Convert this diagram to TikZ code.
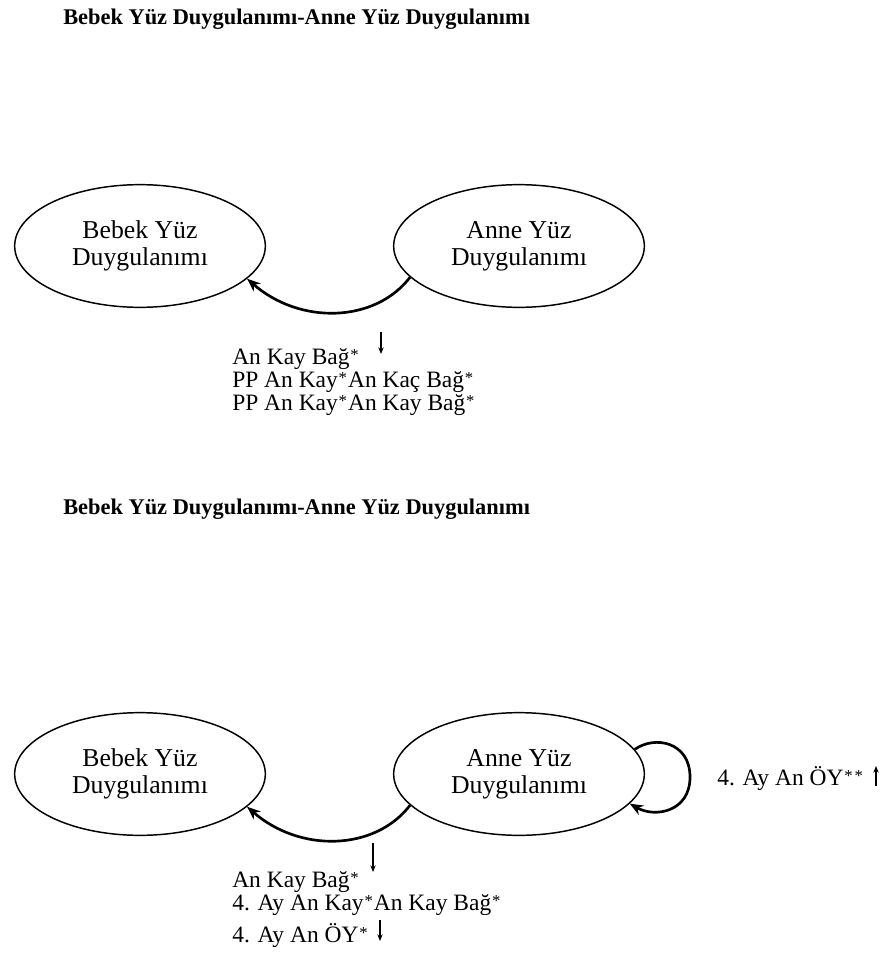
\documentclass[tikz,border=0pt]{standalone}
\usepackage{fontspec}
\setmainfont{Liberation Serif}
\usetikzlibrary{shapes.geometric,arrows.meta}
% small raised significance mark
\newcommand{\sg}{{\kern0.6pt\raisebox{0.15em}{\fontsize{12.5}{12.5}\selectfont *}\kern0.8pt}}
\begin{document}
\begin{tikzpicture}[x=0.75pt,y=-0.75pt,
  state/.style={ellipse,draw,line width=1.1pt,minimum width=188pt,minimum height=92pt,
    inner sep=0pt,align=center,font=\fontsize{19.3}{20.5}\selectfont},
  heading/.style={anchor=base west,inner sep=0pt,font=\fontsize{16.8}{18}\bfseries\selectfont},
  note/.style={anchor=base west,inner sep=0pt,font=\fontsize{17.6}{18}\selectfont},
  link/.style={line width=2pt,-{Stealth[length=10pt,width=8pt]}},
  trend/.style={line width=0.8pt,-{Stealth[length=5pt,width=4pt]}}]
\useasboundingbox (0,0) rectangle (888,960);

% first model
\node[heading] (t1) at (63,24) {Bebek Yüz Duygulanımı-Anne Yüz Duygulanımı};
\node[state] (b1) at (140,246) {Bebek Yüz\\Duygulanımı};
\node[state] (a1) at (519,246) {Anne Yüz\\Duygulanımı};
\draw[link] (a1.196) .. controls (375,323) and (300,325) .. (b1.-17);
\coordinate (d1s) at (381,332);
\coordinate (d1e) at (381,354);
\draw[trend] (d1s) -- (d1e);
\node[note] (n1) at (232,364) {An Kay Bağ\sg};
\node[note] (n2) at (232,387) {PP An Kay\sg An Kaç Bağ\sg};
\node[note] (n3) at (232,410) {PP An Kay\sg An Kay Bağ\sg};

% second model
\node[heading] (t2) at (63,514) {Bebek Yüz Duygulanımı-Anne Yüz Duygulanımı};
\node[state] (b2) at (140,774) {Bebek Yüz\\Duygulanımı};
\node[state] (a2) at (519,774) {Anne Yüz\\Duygulanımı};
\draw[link] (a2.196) .. controls (375,851) and (300,853) .. (b2.-17);
\draw[link] (a2.12) .. controls (655,735) and (690,742) .. (690,777)
  .. controls (690,812) and (655,818) .. (a2.-15);
\node[note] (n7) at (717,785) {4. Ay An ÖY\sg\sg};
\coordinate (u1s) at (876,786);
\coordinate (u1e) at (876,766);
\draw[trend] (u1s) -- (u1e);
\coordinate (d2s) at (373,843);
\coordinate (d2e) at (373,872);
\draw[trend] (d2s) -- (d2e);
\node[note] (n4) at (232,887) {An Kay Bağ\sg};
\node[note] (n5) at (232,910) {4. Ay An Kay\sg An Kay Bağ\sg};
\coordinate (d3s) at (380,920);
\coordinate (d3e) at (380,941);
\draw[trend] (d3s) -- (d3e);
\node[note] (n6) at (232,942) {4. Ay An ÖY\sg};
\end{tikzpicture}
\end{document}
